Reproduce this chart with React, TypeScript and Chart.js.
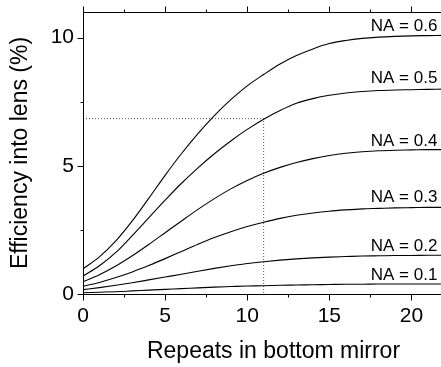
import React, { useEffect, useRef } from "react";
import { Chart, registerables } from "chart.js";

Chart.register(...registerables);

const FONT = "'Liberation Sans', Arial, Helvetica, sans-serif";

// Data
const repeats = [0, 1, 2, 3, 4, 5, 6, 7, 8, 9, 10, 11, 12, 13, 14, 15, 16, 17, 18, 19, 20, 21, 22];
const na01 = [0.05, 0.07, 0.09, 0.12, 0.15, 0.18, 0.21, 0.24, 0.27, 0.29, 0.31, 0.32, 0.34, 0.35, 0.36, 0.37, 0.38, 0.38, 0.39, 0.39, 0.39, 0.39, 0.39];
const na02 = [0.17, 0.25, 0.34, 0.44, 0.55, 0.66, 0.77, 0.89, 1.0, 1.1, 1.19, 1.26, 1.32, 1.37, 1.41, 1.44, 1.46, 1.48, 1.49, 1.5, 1.5, 1.51, 1.51];
const na03 = [0.3, 0.45, 0.64, 0.86, 1.11, 1.38, 1.66, 1.94, 2.2, 2.43, 2.63, 2.8, 2.95, 3.07, 3.16, 3.23, 3.28, 3.32, 3.34, 3.36, 3.37, 3.38, 3.38];
const na04 = [0.48, 0.75, 1.09, 1.49, 1.93, 2.39, 2.85, 3.3, 3.72, 4.1, 4.43, 4.71, 4.94, 5.13, 5.28, 5.4, 5.49, 5.55, 5.59, 5.61, 5.62, 5.63, 5.63];
const na05 = [0.7, 1.1, 1.62, 2.28, 2.97, 3.66, 4.32, 4.92, 5.47, 5.97, 6.42, 6.82, 7.16, 7.44, 7.62, 7.75, 7.84, 7.9, 7.94, 7.96, 7.97, 7.98, 7.99];
const na06 = [0.98, 1.45, 2.07, 2.85, 3.73, 4.63, 5.48, 6.26, 6.96, 7.58, 8.12, 8.56, 8.97, 9.3, 9.56, 9.77, 9.89, 9.97, 10.02, 10.05, 10.07, 10.08, 10.09];

const seriesNames = ["NA = 0.1", "NA = 0.2", "NA = 0.3", "NA = 0.4", "NA = 0.5", "NA = 0.6"];
const seriesValues = [na01, na02, na03, na04, na05, na06];
const labelYs = [0.545, 1.675, 3.58, 5.78, 8.23, 10.26];
const labelX = 21.58;

const markerX = 11;
const markerY = 6.84;

const xTickLabels = [0, 5, 10, 15, 20];
const xMinorTicks = [2.5, 7.5, 12.5, 17.5, 22.5];
const yTickLabels = [0, 5, 10];
const yMinorTicks = [2.5, 7.5];

const xTitle = "Repeats in bottom mirror";
const yTitle = "Efficiency into lens (%)";

const decor = {
  id: "decor",
  afterDatasetsDraw(chart: any) {
    const { ctx, chartArea: a, scales } = chart;
    const x = scales.x;
    const y = scales.y;
    const L = Math.round(a.left) + 0.5;
    const T = Math.round(a.top) + 0.5;
    const B = Math.round(a.bottom) + 0.5;
    ctx.save();
    ctx.strokeStyle = "#000";
    ctx.lineWidth = 1;
    ctx.beginPath();
    ctx.moveTo(L, T);
    ctx.lineTo(L, B);
    ctx.moveTo(L, T);
    ctx.lineTo(a.right, T);
    ctx.moveTo(L, B);
    ctx.lineTo(a.right, B);
    const xt = (v: number, len: number) => {
      const p = Math.round(x.getPixelForValue(v)) + 0.5;
      ctx.moveTo(p, B);
      ctx.lineTo(p, B + len);
      ctx.moveTo(p, T);
      ctx.lineTo(p, T - len);
    };
    xTickLabels.forEach((v) => xt(v, 6));
    xMinorTicks.forEach((v) => xt(v, 3));
    const yt = (v: number, len: number) => {
      const p = Math.round(y.getPixelForValue(v)) + 0.5;
      ctx.moveTo(L, p);
      ctx.lineTo(L - len, p);
    };
    yTickLabels.forEach((v) => yt(v, 6));
    yMinorTicks.forEach((v) => yt(v, 3));
    ctx.stroke();

    ctx.fillStyle = "#000";
    ctx.font = `17px ${FONT}`;
    ctx.textAlign = "right";
    ctx.textBaseline = "alphabetic";
    seriesNames.forEach((name, i) => {
      ctx.fillText(name, x.getPixelForValue(labelX), y.getPixelForValue(labelYs[i]));
    });
    ctx.restore();
  },
};

export default function App() {
  const ref = useRef<HTMLCanvasElement>(null);
  useEffect(() => {
    if (!ref.current) return;
    const datasets: any[] = seriesValues.map((vals, i) => ({
      label: seriesNames[i],
      data: repeats.map((r, j) => ({ x: r, y: vals[j] })),
      borderColor: "#000",
      borderWidth: 1.1,
      pointRadius: 0,
      fill: false,
      cubicInterpolationMode: "monotone",
    }));
    datasets.push({
      label: "marker",
      data: [
        { x: 0, y: markerY },
        { x: markerX, y: markerY },
        { x: markerX, y: 0 },
      ],
      borderColor: "#555",
      borderWidth: 1,
      borderDash: [1, 2],
      pointRadius: 0,
      fill: false,
      tension: 0,
    });
    const chart = new Chart(ref.current, {
      type: "line",
      data: { datasets },
      plugins: [decor],
      options: {
        animation: false,
        responsive: false,
        layout: { padding: { top: 12, left: 0, right: 0, bottom: 0 } },
        plugins: { legend: { display: false }, tooltip: { enabled: false } },
        scales: {
          x: {
            type: "linear",
            min: 0,
            max: 23.2,
            grid: { display: false, drawTicks: false },
            border: { display: false },
            afterBuildTicks: (s: any) => {
              s.ticks = xTickLabels.map((v) => ({ value: v }));
            },
            afterFit: (s: any) => {
              s.height = 73;
              s.paddingLeft = 0;
              s.paddingRight = 0;
            },
            ticks: {
              color: "#000",
              font: { size: 21, family: FONT },
              padding: 10,
              maxRotation: 0,
            },
            title: {
              display: true,
              text: xTitle,
              color: "#000",
              font: { size: 23, family: FONT },
              padding: { top: 0, bottom: 2 },
            },
          },
          y: {
            type: "linear",
            min: 0,
            max: 11,
            grid: { display: false, drawTicks: false },
            border: { display: false },
            afterBuildTicks: (s: any) => {
              s.ticks = yTickLabels.map((v) => ({ value: v }));
            },
            afterFit: (s: any) => {
              s.width = 83;
              s.paddingTop = 0;
              s.paddingBottom = 0;
            },
            ticks: {
              color: "#000",
              font: { size: 21, family: FONT },
              padding: 9,
            },
            title: {
              display: true,
              text: yTitle,
              color: "#000",
              font: { size: 23, family: FONT },
              padding: { top: 7, bottom: 0 },
            },
          },
        },
      } as any,
    });
    return () => chart.destroy();
  }, []);
  return (
    <div style={{ position: "fixed", left: 0, top: 0, width: 441, height: 367, overflow: "hidden", background: "#fff" }}>
      <canvas ref={ref} width={464} height={367} style={{ width: 464, height: 367, display: "block" }} />
    </div>
  );
}
